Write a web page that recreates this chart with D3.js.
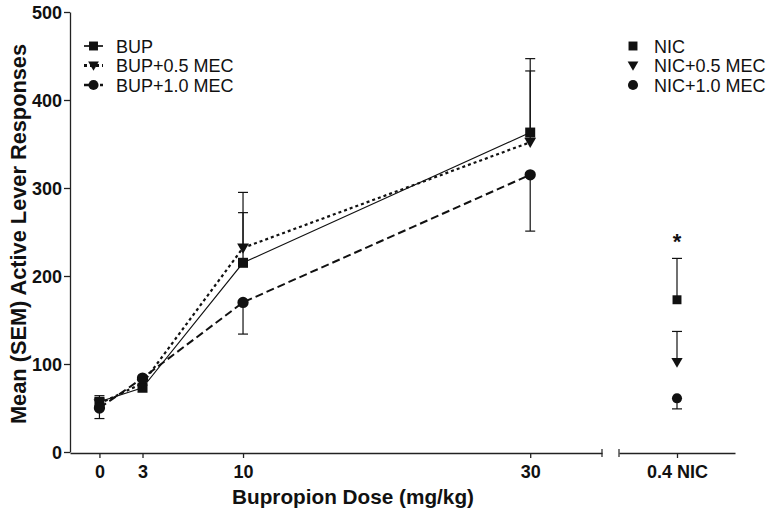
<!DOCTYPE html>
<html>
<head>
<meta charset="utf-8">
<script src="https://cdn.jsdelivr.net/npm/d3@7"></script>
<style>
  body { margin: 0; background: #fff; }
  svg { display: block; font-family: "Liberation Sans", Arial, sans-serif; }
</style>
</head>
<body>
<div id="chart"></div>
<script>
// bupropion doses (mg/kg)
const doses = [0, 3, 10, 30]
const seriesNames = ['BUP', 'BUP+0.5 MEC', 'BUP+1.0 MEC']
const bupMean = [57, 73, 215, 363]
const bup05Mean = [55, 78, 232, 352]
const bup10Mean = [50, 84, 170, 315]
const bupSem = [7, 3, 80, 84]
const bup05Sem = [6, 3, 40, 81]
const bup10Sem = [12, 3, 36, 64]

// nicotine panel
const nicCategory = '0.4 NIC'
const nicNames = ['NIC', 'NIC+0.5 MEC', 'NIC+1.0 MEC']
const nicMean = [173, 102, 61]
const nicSem = [47, 35, 12]

const yTicks = [0, 100, 200, 300, 400, 500]

const width = 771
const height = 514

const svg = d3.select('#chart')
  .append('svg')
  .attr('width', width)
  .attr('height', height)

const x = d3.scaleLinear().domain([-2.05, 35]).range([70, 602])
const x2 = d3.scalePoint().domain([nicCategory]).range([619, 735])
const y = d3.scaleLinear().domain([0, 500]).range([452, 12])

const means = [bupMean, bup05Mean, bup10Mean]
const sems = [bupSem, bup05Sem, bup10Sem]
const dirs = [1, 1, -1]           // error bar drawn up or down
const dashes = [null, '3,3', '8,4']
const widths = [1.1, 2.2, 2]
const shapes = [d3.symbolSquare, d3.symbolTriangle, d3.symbolCircle]
const sizes = [100, 60, 100]

const axisColor = '#222'

// y axis
const yAxis = svg.append('g')
  .attr('transform', 'translate(70,0)')
  .call(d3.axisLeft(y).tickValues(yTicks).tickSize(6).tickSizeOuter(0))
yAxis.selectAll('path, line').attr('stroke', axisColor).attr('stroke-width', 1.3)
yAxis.selectAll('text')
  .attr('fill', '#111')
  .style('font-size', '18px')
  .style('font-weight', 'bold')
  .attr('x', -8)
  .attr('dy', '0.36em')

// x axis, dose segment
const xAxis = svg.append('g')
  .attr('transform', 'translate(0,453)')
  .call(d3.axisBottom(x).tickValues(doses).tickSize(5).tickSizeOuter(0))
xAxis.selectAll('path, line').attr('stroke', axisColor).attr('stroke-width', 1.3)
xAxis.selectAll('text')
  .attr('fill', '#111')
  .style('font-size', '18px')
  .style('font-weight', 'bold')
  .attr('y', 12)

// x axis, nicotine segment
const xAxis2 = svg.append('g')
  .attr('transform', 'translate(0,453)')
  .call(d3.axisBottom(x2).tickSize(5).tickSizeOuter(0))
xAxis2.selectAll('path, line').attr('stroke', axisColor).attr('stroke-width', 1.3)
xAxis2.selectAll('text')
  .attr('fill', '#111')
  .style('font-size', '18px')
  .style('font-weight', 'bold')
  .attr('y', 12)

// break end caps
;[x.range()[1], x2.range()[0]].forEach(px => {
  svg.append('line')
    .attr('x1', px).attr('x2', px)
    .attr('y1', 449).attr('y2', 457)
    .attr('stroke', axisColor)
    .attr('stroke-width', 1.2)
})

// axis titles
svg.append('text')
  .attr('x', 353)
  .attr('y', 504)
  .attr('text-anchor', 'middle')
  .attr('textLength', 242)
  .attr('lengthAdjust', 'spacingAndGlyphs')
  .style('font-size', '21px')
  .style('font-weight', 'bold')
  .attr('fill', '#111')
  .text('Bupropion Dose (mg/kg)')

svg.append('text')
  .attr('transform', 'translate(26,234) rotate(-90)')
  .attr('text-anchor', 'middle')
  .attr('textLength', 380)
  .attr('lengthAdjust', 'spacingAndGlyphs')
  .style('font-size', '22px')
  .style('font-weight', 'bold')
  .attr('fill', '#111')
  .text('Mean (SEM) Active Lever Responses')

const markerPath = (i, s) => d3.symbol().type(shapes[i]).size(s || sizes[i])()
const markerTransform = (i, px, py) =>
  i === 1 ? `translate(${px},${py - 1}) rotate(180)` : `translate(${px},${py})`

// error bars
function errorBar(px, mean, sem, dir) {
  const y0 = y(mean)
  const y1 = y(mean + dir * sem)
  svg.append('line')
    .attr('x1', px).attr('x2', px)
    .attr('y1', y0).attr('y2', y1)
    .attr('stroke', '#111').attr('stroke-width', 1.2)
  svg.append('line')
    .attr('x1', px - 5).attr('x2', px + 5)
    .attr('y1', y1).attr('y2', y1)
    .attr('stroke', '#111').attr('stroke-width', 1.2)
}

means.forEach((m, i) => {
  m.forEach((v, j) => errorBar(x(doses[j]), v, sems[i][j], dirs[i]))
})
nicMean.forEach((v, i) => errorBar(x2(nicCategory), v, nicSem[i], dirs[i]))

// lines
const line = d3.line().x((d, j) => x(doses[j])).y(d => y(d))
means.forEach((m, i) => {
  svg.append('path')
    .datum(m)
    .attr('d', line)
    .attr('fill', 'none')
    .attr('stroke', '#111')
    .attr('stroke-width', widths[i])
    .attr('stroke-dasharray', dashes[i])
})

// markers
means.forEach((m, i) => {
  svg.selectAll(null)
    .data(m)
    .join('path')
    .attr('d', markerPath(i))
    .attr('transform', (d, j) => markerTransform(i, x(doses[j]), y(d)))
    .attr('fill', '#111')
})
nicMean.forEach((v, i) => {
  svg.append('path')
    .attr('d', markerPath(i, i === 1 ? 55 : 80))
    .attr('transform', markerTransform(i, x2(nicCategory), y(v)))
    .attr('fill', '#111')
})

// significance mark
svg.append('text')
  .attr('x', x2(nicCategory))
  .attr('y', y(nicMean[0] + nicSem[0]) - 9)
  .attr('text-anchor', 'middle')
  .style('font-size', '22px')
  .style('font-weight', 'bold')
  .attr('fill', '#111')
  .text('*')

// legends
const legendRows = [46, 65.5, 85]
seriesNames.forEach((name, i) => {
  const g = svg.append('g').attr('transform', `translate(0,${legendRows[i]})`)
  g.append('line')
    .attr('x1', 84).attr('x2', 103)
    .attr('stroke', '#111')
    .attr('stroke-width', widths[i] + 0.6)
    .attr('stroke-dasharray', i === 0 ? null : (i === 1 ? '3,3' : '5,3'))
  g.append('path')
    .attr('d', markerPath(i, i === 1 ? 50 : 80))
    .attr('transform', markerTransform(i, 93.5, 0))
    .attr('fill', '#111')
  g.append('text')
    .attr('x', 116)
    .attr('y', 6.5)
    .style('font-size', '18px')
    .attr('fill', '#111')
    .text(name)
})
nicNames.forEach((name, i) => {
  const g = svg.append('g').attr('transform', `translate(0,${legendRows[i]})`)
  g.append('path')
    .attr('d', markerPath(i, i === 1 ? 50 : 80))
    .attr('transform', markerTransform(i, 633, 0))
    .attr('fill', '#111')
  g.append('text')
    .attr('x', 654)
    .attr('y', 6.5)
    .style('font-size', '18px')
    .attr('fill', '#111')
    .text(name)
})
</script>
</body>
</html>
